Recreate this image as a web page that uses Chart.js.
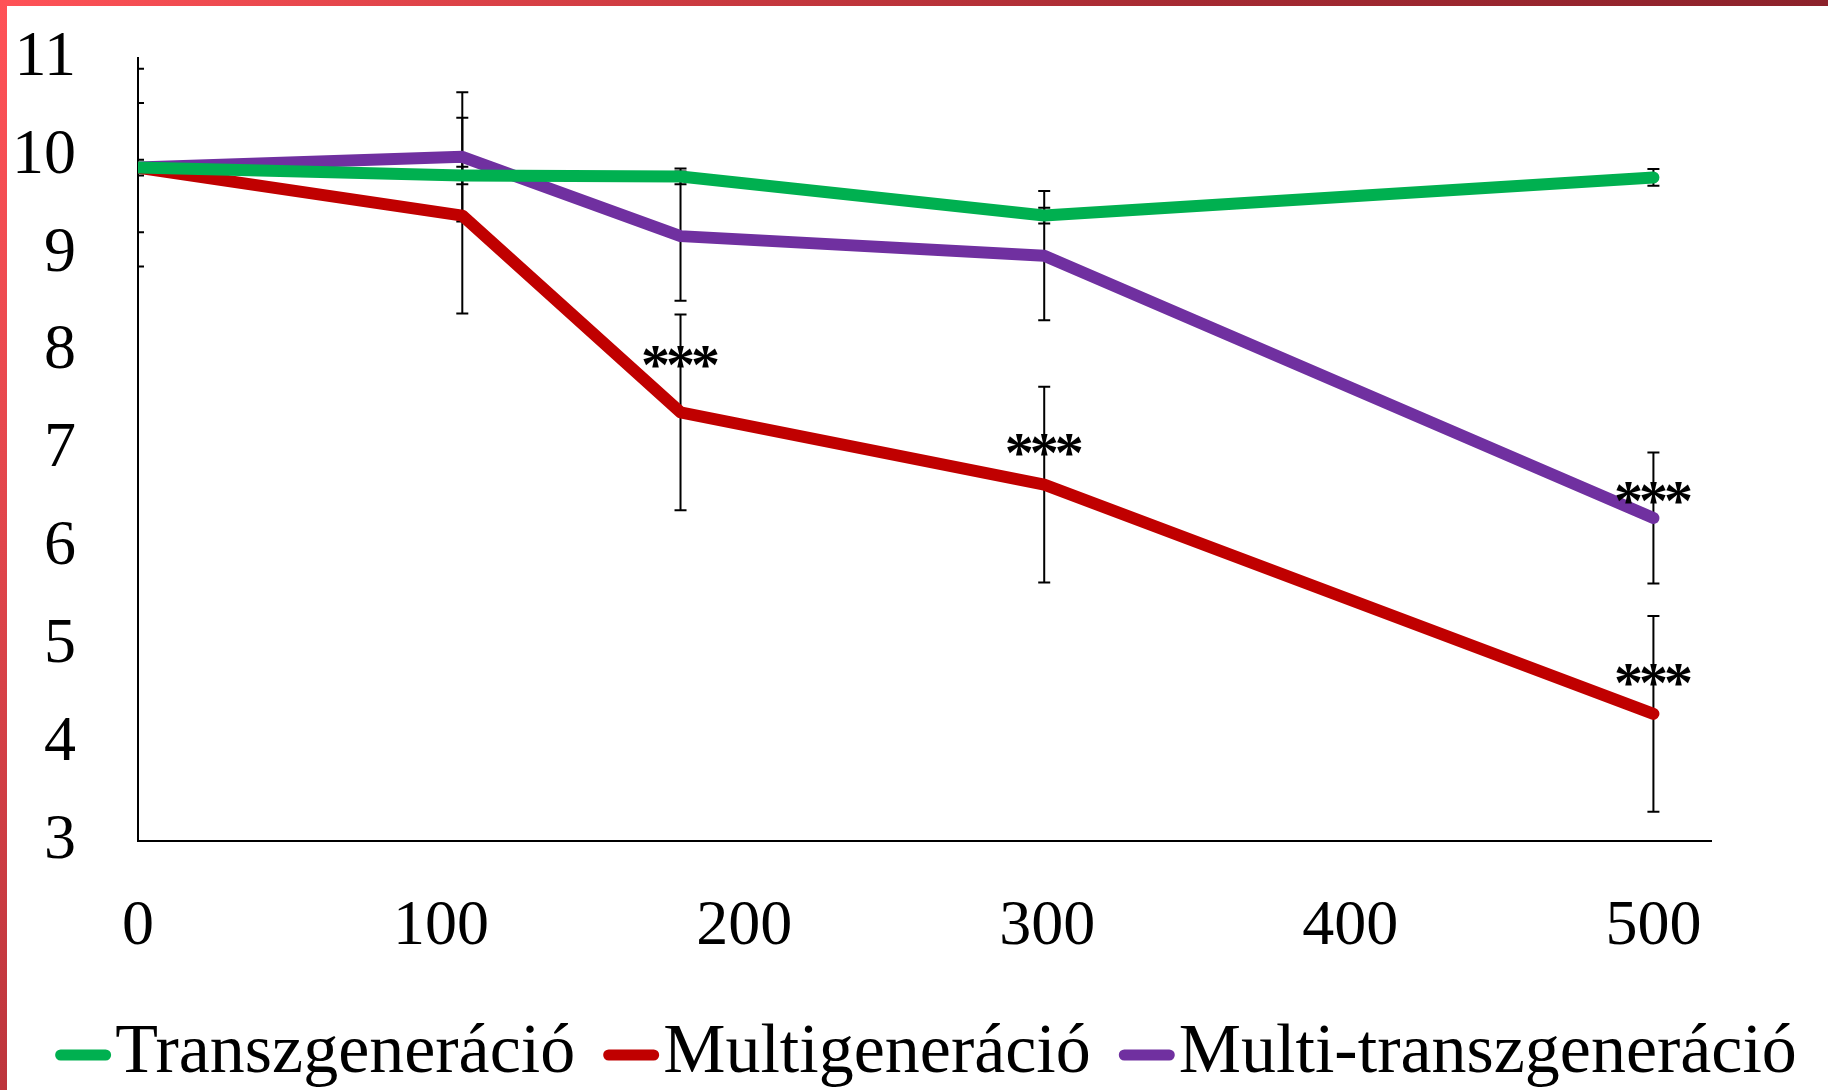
<!DOCTYPE html>
<html>
<head>
<meta charset="utf-8">
<script src="https://cdn.jsdelivr.net/npm/chart.js@4.4.1/dist/chart.umd.min.js"></script>
<style>
  html, body { margin: 0; padding: 0; background: #fff; }
  #wrap { position: relative; width: 1828px; height: 1090px; overflow: hidden; }
  #felso { position: absolute; left: 0; top: 0; width: 1828px; height: 6px;
           background: linear-gradient(to right, #ff5257, #c8393f 40%, #a52a32 65%, #8c222b); }
  #bal { position: absolute; left: 0; top: 0; width: 7px; height: 1090px;
         background: linear-gradient(to bottom, #ff5257, #e0454b 50%, #bd353c); }
</style>
</head>
<body>
<div id="wrap">
  <canvas id="myChart" width="1828" height="1090"></canvas>
  <div id="felso"></div>
  <div id="bal"></div>
</div>
<script>
// Adatok
const generaciok = [0, 107, 179, 299, 500];
const xTicks = [0, 100, 200, 300, 400, 500];

const transz = [9.88, 9.80, 9.79, 9.39, 9.78];
const transzHiba = [0.08, 0.09, 0.08, 0.08, 0.085];

const multi = [9.88, 9.39, 7.38, 6.64, 4.30];
const multiHiba = [1.01, 1.0, 1.0, 1.0, 1.0];

const multiTransz = [9.88, 9.99, 9.18, 8.98, 6.30];
const multiTranszHiba = [0.66, 0.66, 0.66, 0.66, 0.67];

// szignifikancia jelek
const csillagX = [179, 299, 500, 500];
const csillagY = [7.95, 7.05, 6.56, 4.70];
const csillagSzoveg = ['***', '***', '***', '***'];

const betu = '"Liberation Serif", "Times New Roman", serif';

const pontok = arr => arr.map((v, i) => ({ x: generaciok[i], y: v }));

// hibasavok a vonalak alatt
const hibasavPlugin = {
    id: 'hibasav',
    beforeDatasetsDraw(chart) {
        const { ctx, chartArea, scales: { x, y } } = chart;
        ctx.save();
        ctx.beginPath();
        ctx.rect(chartArea.left, 0, chart.width - chartArea.left, chart.height);
        ctx.clip();
        ctx.strokeStyle = '#000';
        ctx.lineWidth = 2;
        chart.data.datasets.forEach(ds => {
            ds.data.forEach((p, i) => {
                const px = x.getPixelForValue(p.x);
                const fent = y.getPixelForValue(p.y + ds.hiba[i]);
                const lent = y.getPixelForValue(p.y - ds.hiba[i]);
                ctx.beginPath();
                ctx.moveTo(px, fent); ctx.lineTo(px, lent);
                ctx.moveTo(px - 6, fent); ctx.lineTo(px + 6, fent);
                ctx.moveTo(px - 6, lent); ctx.lineTo(px + 6, lent);
                ctx.stroke();
            });
        });
        ctx.restore();
    }
};

// csillagok + sajat jelmagyarazat
const feliratPlugin = {
    id: 'felirat',
    afterDraw(chart) {
        const { ctx, scales: { x, y } } = chart;
        ctx.save();
        ctx.fillStyle = '#000';
        ctx.font = 'bold 58px ' + betu;
        ctx.letterSpacing = '-4px';
        ctx.textAlign = 'center';
        ctx.textBaseline = 'alphabetic';
        csillagSzoveg.forEach((t, i) => {
            const m = ctx.measureText(t);
            const kozep = (m.actualBoundingBoxAscent - m.actualBoundingBoxDescent) / 2;
            ctx.fillText(t, x.getPixelForValue(csillagX[i]) - 2, y.getPixelForValue(csillagY[i]) + kozep);
        });
        ctx.letterSpacing = '0px';

        // jelmagyarazat
        ctx.font = '70px ' + betu;
        ctx.textAlign = 'left';
        ctx.textBaseline = 'alphabetic';
        const vonalHossz = 56, res = 4, koz = 28;
        const elemek = chart.data.datasets.map(ds => ({
            szin: ds.borderColor, szoveg: ds.label, w: ctx.measureText(ds.label).width
        }));
        const teljes = elemek.reduce((s, e) => s + vonalHossz + res + e.w, 0) + koz * (elemek.length - 1);
        let xp = 926 - teljes / 2;
        const vy = 1055, alap = 1072;
        elemek.forEach(e => {
            ctx.strokeStyle = e.szin;
            ctx.lineWidth = 11;
            ctx.lineCap = 'round';
            ctx.beginPath();
            ctx.moveTo(xp + 5.5, vy);
            ctx.lineTo(xp + vonalHossz - 5.5, vy);
            ctx.stroke();
            ctx.fillText(e.szoveg, xp + vonalHossz + res, alap);
            xp += vonalHossz + res + e.w + koz;
        });
        ctx.restore();
    }
};

const vonal = (label, adat, hiba, szin) => ({
    label: label,
    data: pontok(adat),
    hiba: hiba,
    borderColor: szin,
    backgroundColor: szin,
    borderWidth: 12,
    borderCapStyle: 'round',
    borderJoinStyle: 'round',
    pointRadius: 0,
    pointHoverRadius: 0,
    tension: 0,
    clip: { left: 0, top: false, right: false, bottom: false }
});

const ctx = document.getElementById('myChart').getContext('2d');
const myChart = new Chart(ctx, {
    type: 'line',
    data: {
        datasets: [
            vonal('Transzgeneráció', transz, transzHiba, '#00b050'),
            vonal('Multigeneráció', multi, multiHiba, '#c00000'),
            vonal('Multi-transzgeneráció', multiTransz, multiTranszHiba, '#7030a0')
        ]
    },
    options: {
        responsive: false,
        animation: false,
        events: [],
        layout: { padding: { top: 58, right: 117, left: 0, bottom: 0 } },
        plugins: {
            legend: { display: false },
            tooltip: { enabled: false }
        },
        scales: {
            x: {
                type: 'linear',
                min: 0,
                max: 519,
                grid: { display: false, drawTicks: false },
                border: { display: true, color: '#000', width: 2 },
                afterBuildTicks: s => { s.ticks = xTicks.map(v => ({ value: v })); },
                afterFit: s => { s.height = 249; s.paddingLeft = 0; s.paddingRight = 0; },
                ticks: {
                    color: '#000',
                    padding: 48,
                    maxRotation: 0,
                    font: { family: betu, size: 64 }
                }
            },
            y: {
                min: 3,
                max: 11,
                grid: { display: false, drawTicks: false },
                border: { display: true, color: '#000', width: 2 },
                afterFit: s => { s.width = 138; s.paddingTop = 0; s.paddingBottom = 0; },
                ticks: {
                    stepSize: 1,
                    color: '#000',
                    padding: 62,
                    font: { family: betu, size: 64 }
                }
            }
        }
    },
    plugins: [hibasavPlugin, feliratPlugin]
});
</script>
</body>
</html>
